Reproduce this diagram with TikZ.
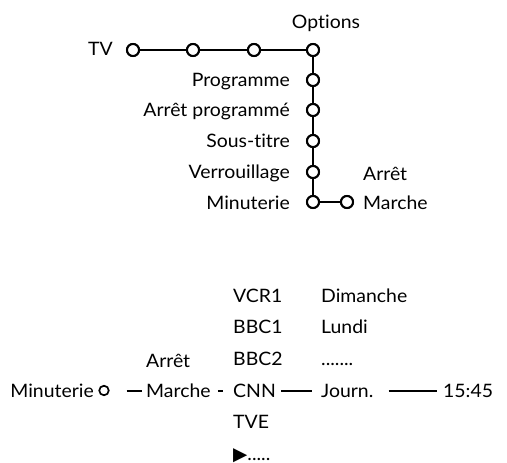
\documentclass[tikz,border=0pt]{standalone}
\usepackage{fontspec}
\setmainfont[FakeStretch=1.05, Ligatures=NoCommon]{Lato}
\newfontfamily\symfont{DejaVu Sans}
\usetikzlibrary{positioning}

\begin{document}
\begin{tikzpicture}[
    x=1pt, y=-1pt,
    font=\fontsize{18.5}{22}\selectfont,
    dot/.style={draw, circle, line width=2pt, fill=white, minimum size=12pt, inner sep=0pt},
    smalldot/.style={draw, circle, line width=1.7pt, minimum size=9.5pt, inner sep=0pt},
    lbl/.style={inner sep=0pt, anchor=base east},
    rlbl/.style={inner sep=0pt, anchor=base west},
    wire/.style={line width=2.2pt},
    dsh/.style={line width=2pt}
]
\useasboundingbox (0,0) rectangle (507,463);

% menu tree
\node[dot] (tv) at (133,50) {};
\node[dot, right=46pt of tv] (n1) {};
\node[dot, right=47pt of n1] (n2) {};
\node[dot, right=45pt of n2] (opt) {};
\node[dot, below=16pt of opt] (prog) {};
\node[dot, below=16pt of prog] (arrp) {};
\node[dot, below=17pt of arrp] (sous) {};
\node[dot, below=17pt of sous] (verr) {};
\node[dot, below=16pt of verr] (minu) {};
\node[dot, right=20pt of minu] (march) {};

\node[lbl] (tvL) at (113,56) {TV};
\node[inner sep=0pt, anchor=base] (optL) at (326,28) {Options};
\node[lbl] (progL) at (290,86) {Programme};
\node[lbl] (arrpL) at (290,116) {Arrêt programmé};
\node[lbl] (sousL) at (290,147) {Sous-titre};
\node[lbl] (verrL) at (290,178) {Verrouillage};
\node[lbl] (minuL) at (290,209) {Minuterie};
\node[rlbl] (arrL) at (363,180) {Arrêt};
\node[rlbl] (marL) at (363,209) {Marche};

% timer line
\node[lbl] (bMinu) at (94,397) {Minuterie};
\node[smalldot] (bO) at (104,390.5) {};
\node[rlbl] (bArr) at (146,367) {Arrêt};
\node[rlbl] (bMar) at (146,397) {Marche};
\node[rlbl] (vcr) at (233,302) {VCR1};
\node[rlbl] (bbc1) at (233,333) {BBC1};
\node[rlbl] (bbc2) at (233,365) {BBC2};
\node[rlbl] (cnn) at (233,397) {CNN};
\node[rlbl] (tve) at (233,428) {TVE};
\node[rlbl] (more) at (233,460) {{\symfont ▶}.....};
\node[rlbl] (dim) at (321,302) {Dimanche};
\node[rlbl] (lun) at (321,333) {Lundi};
\node[rlbl] (dots) at (321,365) {.......};
\node[rlbl] (jour) at (321,397) {Journ.};
\node[rlbl] (heure) at (443,397) {15:45};

\draw[wire] (tv) -- (n1) -- (n2) -- (opt) -- (prog) -- (arrp) -- (sous) -- (verr) -- (minu) -- (march);
\foreach \n in {tv,n1,n2,opt,prog,arrp,sous,verr,minu,march}
  \node[dot] at (\n) {};

\draw[dsh] ([xshift=17pt]bO.east) -- ([xshift=-4pt]bO -| bMar.west);
\draw[dsh] ([xshift=7pt]bMar.east |- bO) -- ([xshift=-10pt]cnn.west |- bO);
\draw[dsh] ([xshift=5pt]cnn.east |- bO) -- ([xshift=-9pt]jour.west |- bO);
\draw[dsh] ([xshift=15pt]jour.east |- bO) -- ([xshift=-6pt]heure.west |- bO);
\end{tikzpicture}
\end{document}
